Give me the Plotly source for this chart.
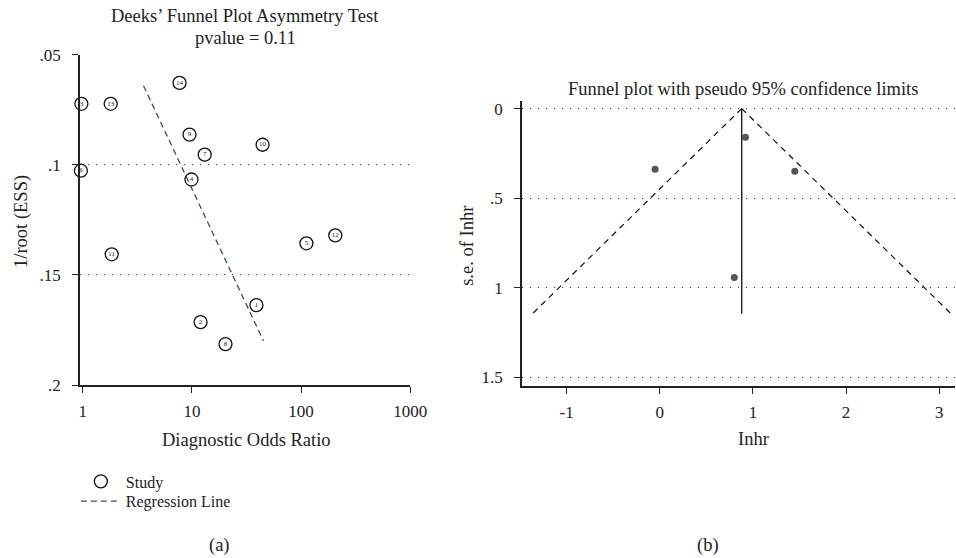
import numpy as np
import plotly.graph_objects as go

# ---------------- Data: Deeks' funnel plot (a) ----------------
study_ids = ["1", "2", "3", "4", "5", "6", "7", "8", "9", "10", "11", "12", "13", "14"]
study_dor = [39, 12.0, 0.97, 9.9, 112, 0.96, 13.1, 20.3, 9.5, 44.4, 1.84, 206, 1.80, 7.7]
study_inv_root_ess = [0.1637, 0.1714, 0.0722, 0.1066, 0.1356, 0.1026, 0.0953,
                      0.1814, 0.0862, 0.0908, 0.1406, 0.1320, 0.0722, 0.0627]
regression_dor = [3.6, 45.3]
regression_y = [0.064, 0.180]

deeks_x_ticks = [1, 10, 100, 1000]
deeks_x_labels = ["1", "10", "100", "1000"]
deeks_y_ticks = [0.05, 0.1, 0.15, 0.2]
deeks_y_labels = [".05", ".1", ".15", ".2"]

# ---------------- Data: funnel plot (b) ----------------
lnhr = [-0.05, 0.92, 1.45, 0.80]
se_lnhr = [0.339, 0.160, 0.350, 0.944]
pooled_lnhr = 0.88
se_max = 1.146
z95 = 1.96

funnel_x_ticks = [-1, 0, 1, 2, 3]
funnel_x_labels = ["-1", "0", "1", "2", "3"]
funnel_y_ticks = [0, 0.5, 1, 1.5]
funnel_y_labels = ["0", ".5", "1", "1.5"]

# layout helpers: target picture coordinates -> figure paper fractions
PAD_Y = 8
SX, SY = 956 / 972, 558 / 574
W, H = 972, 566
FONT = "Liberation Serif"
TXT = "#222222"

def px_x(p):
    return (p / SX) / W

def px_y(p):
    return 1 - (p / SY - PAD_Y) / H

fig = go.Figure()

# (a) studies
fig.add_trace(go.Scatter(
    x=study_dor, y=study_inv_root_ess, mode="markers+text",
    text=study_ids, textposition="middle center",
    textfont=dict(size=7, family=FONT, color=TXT),
    marker=dict(symbol="circle-open", size=13, color="#111111", line=dict(width=1.3)),
    name="Study", xaxis="x", yaxis="y", cliponaxis=False, legend="legend",
))
# (a) regression line
fig.add_trace(go.Scatter(
    x=regression_dor, y=regression_y, mode="lines",
    line=dict(color="#34506e", width=1.3, dash="6px,4px"),
    name="Regression Line", xaxis="x", yaxis="y", legend="legend2",
))

# (b) funnel limits
se_line = [0, se_max]
left_lim = [pooled_lnhr - z95 * s for s in se_line]
right_lim = [pooled_lnhr + z95 * s for s in se_line]
fig.add_trace(go.Scatter(
    x=left_lim, y=se_line, mode="lines",
    line=dict(color="#111111", width=1.2, dash="6px,5px"),
    showlegend=False, xaxis="x2", yaxis="y2",
))
fig.add_trace(go.Scatter(
    x=right_lim, y=se_line, mode="lines",
    line=dict(color="#111111", width=1.2, dash="6px,5px"),
    showlegend=False, xaxis="x2", yaxis="y2", cliponaxis=False,
))
fig.add_trace(go.Scatter(
    x=[pooled_lnhr, pooled_lnhr], y=se_line, mode="lines",
    line=dict(color="#111111", width=1.3),
    showlegend=False, xaxis="x2", yaxis="y2",
))
fig.add_trace(go.Scatter(
    x=lnhr, y=se_lnhr, mode="markers",
    marker=dict(color="#555555", size=7),
    showlegend=False, xaxis="x2", yaxis="y2",
))

tickfont = dict(family=FONT, size=17, color=TXT)
common_axis = dict(showline=True, linecolor="#222222", linewidth=1.5,
                   ticks="outside", ticklen=6, tickwidth=1.2, tickcolor="#222222",
                   tickfont=tickfont, zeroline=False)
grid = dict(showgrid=True, gridcolor="#333333", gridwidth=1, griddash="1px,7px")

legend_common = dict(xanchor="left", yanchor="middle",
                     font=dict(family=FONT, size=16, color=TXT),
                     bgcolor="rgba(0,0,0,0)", itemwidth=40)

fig.update_layout(
    width=W, height=H,
    margin=dict(l=0, r=0, t=0, b=0),
    paper_bgcolor="white", plot_bgcolor="white",
    font=dict(family=FONT, color=TXT),
    xaxis=dict(type="log", range=[-3 / 109.3, 3.0],
               domain=[px_x(79), px_x(410)], anchor="y",
               tickvals=deeks_x_ticks, ticktext=deeks_x_labels,
               showgrid=False, ticklabelstandoff=4, **common_axis),
    yaxis=dict(range=[0.2, 0.05], domain=[px_y(386), px_y(54)], anchor="x",
               tickvals=deeks_y_ticks, ticktext=deeks_y_labels,
               ticklabelstandoff=8, **grid, **common_axis),
    xaxis2=dict(range=[-1.48, 3.17], domain=[px_x(522), px_x(956)], anchor="y2",
                tickvals=funnel_x_ticks, ticktext=funnel_x_labels,
                showgrid=False, ticklabelstandoff=4, **common_axis),
    yaxis2=dict(range=[1.55, -0.044], domain=[px_y(387), px_y(100)], anchor="x2",
                tickvals=funnel_y_ticks, ticktext=funnel_y_labels,
                ticklabelstandoff=8, **grid, **common_axis),
    legend=dict(x=px_x(75), y=px_y(483), **legend_common),
    legend2=dict(x=px_x(75), y=px_y(503), **legend_common),
    showlegend=True,
)

ann = [
    dict(text="Deeks’ Funnel Plot Asymmetry Test", x=245, y=15, size=18.5),
    dict(text="pvalue = 0.11", x=245, y=37, size=18.5),
    dict(text="Diagnostic Odds Ratio", x=246, y=441, size=18.5),
    dict(text="(a)", x=219, y=547, size=18.5),
    dict(text="Funnel plot with pseudo 95% confidence limits", x=744, y=88, size=18.5),
    dict(text="Inhr", x=754, y=440, size=18.5),
    dict(text="(b)", x=708, y=547, size=18.5),
]
for a in ann:
    fig.add_annotation(text=a["text"], x=px_x(a["x"]), y=px_y(a["y"]), xref="paper", yref="paper",
                       xanchor="center", yanchor="middle", showarrow=False,
                       font=dict(family=FONT, size=a["size"], color=TXT))
fig.add_annotation(text="1/root (ESS)", x=px_x(21), y=px_y(221), xref="paper", yref="paper",
                   textangle=-90, xanchor="center", yanchor="middle", showarrow=False,
                   font=dict(family=FONT, size=18.5, color=TXT))
fig.add_annotation(text="s.e. of Inhr", x=px_x(467), y=px_y(246), xref="paper", yref="paper",
                   textangle=-90, xanchor="center", yanchor="middle", showarrow=False,
                   font=dict(family=FONT, size=18.5, color=TXT))

fig.write_html("out.html")
